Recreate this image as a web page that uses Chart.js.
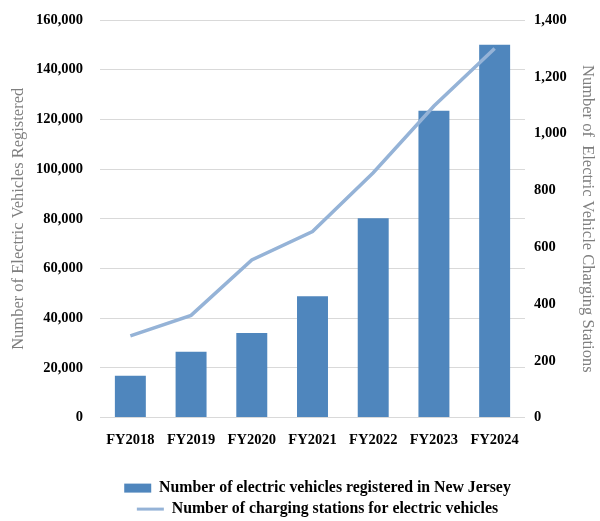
<!DOCTYPE html>
<html>
<head>
<meta charset="utf-8">
<script src="https://cdn.jsdelivr.net/npm/chart.js@4"></script>
<style>
html,body{margin:0;padding:0;background:#fff;}
#wrap{width:600px;height:521px;}
</style>
</head>
<body>
<div id="wrap"><canvas id="c" width="600" height="521"></canvas></div>
<script>
const categories = ["FY2018","FY2019","FY2020","FY2021","FY2022","FY2023","FY2024"];
const evRegistered = [16800, 26500, 34000, 48800, 80200, 123500, 150000];
const chargingStations = [288, 360, 555, 655, 862, 1097, 1300];
const leftTicks = [0, 20000, 40000, 60000, 80000, 100000, 120000, 140000, 160000];
const rightTicks = [0, 200, 400, 600, 800, 1000, 1200, 1400];
const barLabel = "Number of electric vehicles registered in New Jersey";
const lineLabel = "Number of charging stations for electric vehicles";
const leftTitle = "Number of Electric Vehicles Registered";
const rightTitle = "Number of  Electric Vehicle Charging Stations";

const serif = "'Liberation Serif', 'DejaVu Serif', serif";

new Chart(document.getElementById('c'), {
  data: {
    labels: categories,
    datasets: [
      {
        type: 'line',
        label: lineLabel,
        data: chargingStations,
        yAxisID: 'y1',
        borderColor: '#95b3d7',
        backgroundColor: '#95b3d7',
        borderWidth: 3.5,
        pointRadius: 0,
        tension: 0,
        order: 0
      },
      {
        type: 'bar',
        label: barLabel,
        data: evRegistered,
        yAxisID: 'y',
        backgroundColor: '#4f86bd',
        barPercentage: 0.51,
        categoryPercentage: 1.0,
        order: 1
      }
    ]
  },
  options: {
    responsive: false,
    animation: false,
    layout: { padding: { left: 35, right: 0, top: 20, bottom: -6 } },
    plugins: {
      tooltip: { enabled: false },
      legend: {
        position: 'bottom',
        reverse: true,
        labels: {
          color: '#000',
          font: { family: serif, size: 15.8, weight: 'bold' },
          usePointStyle: true,
          pointStyleWidth: 27,
          boxHeight: 9,
          padding: 5.2,
          generateLabels: function(chart) {
            const items = Chart.defaults.plugins.legend.labels.generateLabels(chart);
            return items.map(it => {
              const ds = chart.data.datasets[it.datasetIndex];
              if (ds.type === 'line') {
                it.pointStyle = 'line';
                it.strokeStyle = ds.borderColor;
                it.fillStyle = ds.borderColor;
                it.lineWidth = 3;
              } else {
                it.pointStyle = 'rect';
                it.fillStyle = ds.backgroundColor;
                it.strokeStyle = ds.backgroundColor;
                it.lineWidth = 0;
              }
              return it;
            });
          }
        }
      }
    },
    scales: {
      x: {
        grid: { display: false, drawTicks: false },
        border: { display: false },
        ticks: { color: '#000', font: { family: serif, size: 14.5, weight: 'bold' }, padding: 14 },
        afterFit: axis => { axis.height += 12; }
      },
      y: {
        position: 'left',
        min: 0, max: 160000,
        afterBuildTicks: axis => { axis.ticks = leftTicks.map(v => ({ value: v })); },
        afterFit: axis => { axis.width = 65; axis.paddingTop = 0; axis.paddingBottom = 0; },
        grid: { color: '#d9d9d9', lineWidth: 1, drawTicks: false },
        border: { display: false },
        ticks: {
          color: '#000',
          font: { family: serif, size: 14.5, weight: 'bold' },
          padding: 17,
          callback: v => v.toLocaleString('en-US')
        },
        title: {
          display: true,
          text: leftTitle,
          color: '#7f7f7f',
          font: { family: serif, size: 16.5, weight: 'normal' },
          padding: { top: -26, bottom: 0 }
        }
      },
      y1: {
        position: 'right',
        min: 0, max: 1400,
        afterBuildTicks: axis => { axis.ticks = rightTicks.map(v => ({ value: v })); },
        afterFit: axis => { axis.width = 75; axis.paddingTop = 0; axis.paddingBottom = 0; },
        grid: { display: false, drawTicks: false },
        border: { display: false },
        ticks: {
          color: '#000',
          font: { family: serif, size: 14.5, weight: 'bold' },
          padding: 9,
          callback: v => v.toLocaleString('en-US')
        },
        title: {
          display: true,
          text: rightTitle,
          color: '#7f7f7f',
          font: { family: serif, size: 16.5, weight: 'normal' },
          padding: { top: 3, bottom: 0 }
        }
      }
    }
  }
});
</script>
</body>
</html>
